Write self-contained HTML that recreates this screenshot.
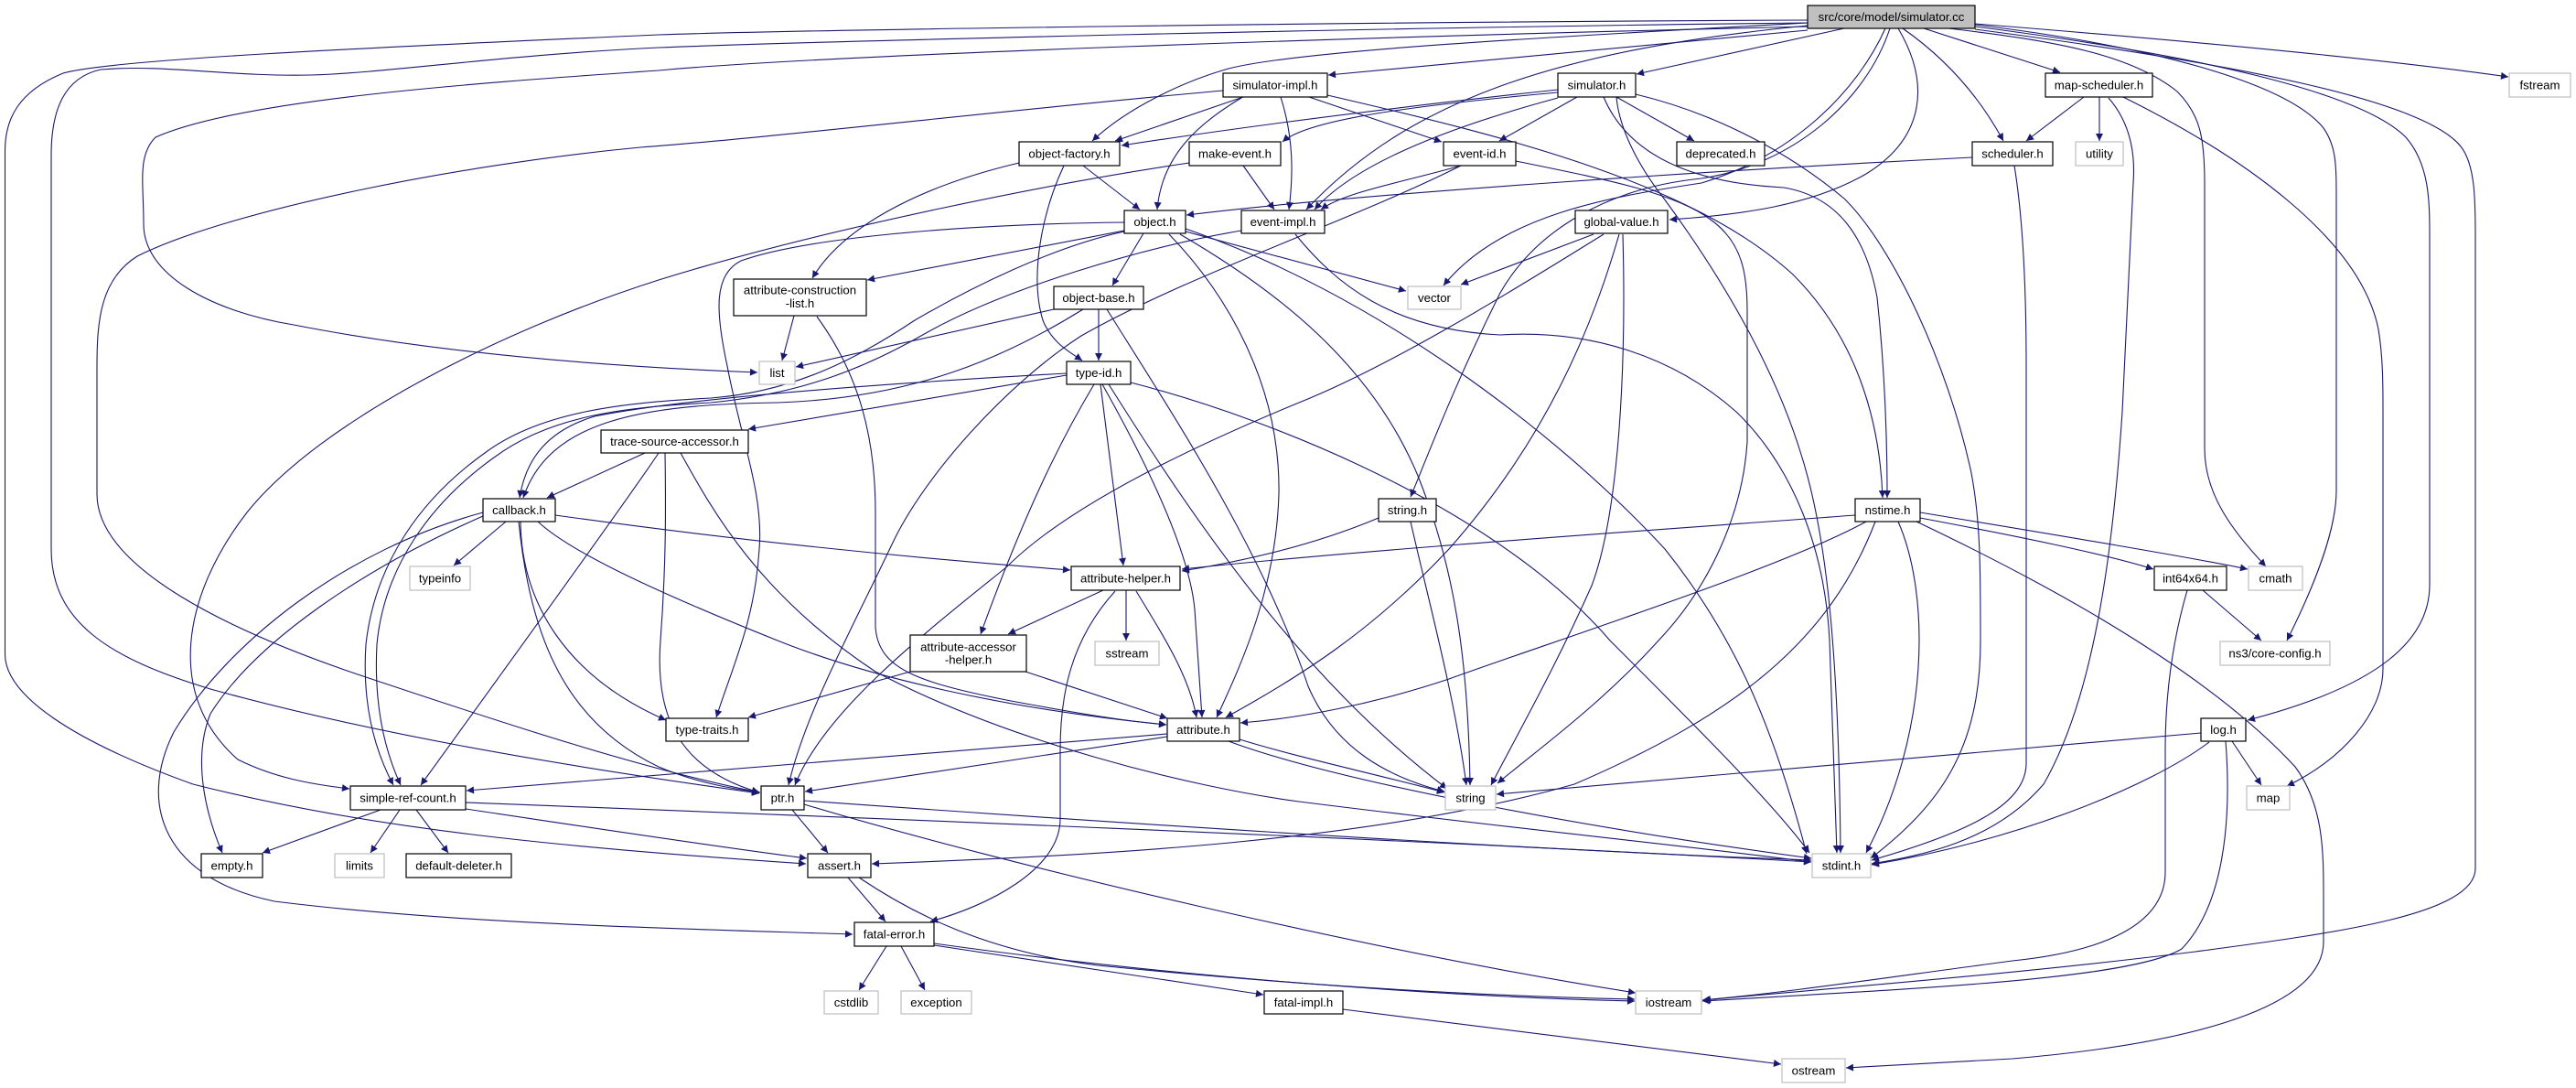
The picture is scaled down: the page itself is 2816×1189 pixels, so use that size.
<!DOCTYPE html>
<html><head><meta charset="utf-8"><style>
html,body{margin:0;padding:0;background:#fff;}
svg{display:block;}
.e path{fill:none;stroke:#191970;stroke-width:1.1;marker-end:url(#a);}
.n rect{fill:#fff;stroke:#000;stroke-width:1.2;}
.n rect.g{stroke:#bfbfbf;}
.n rect.r{fill:#bfbfbf;}
.n text{font-family:"Liberation Sans",Arial,sans-serif;font-size:13.2px;text-anchor:middle;fill:#000;}
</style></head><body>
<svg width="2816" height="1189" viewBox="0 0 2816 1189" xmlns="http://www.w3.org/2000/svg">
<defs><marker id="a" viewBox="0 0 10 10" refX="10" refY="5" markerWidth="11" markerHeight="8" markerUnits="userSpaceOnUse" orient="auto"><path d="M0,0 L10,5 L0,10 z" fill="#191970"/></marker></defs>
<g class="e">
<!-- simulator.cc -->
<path d="M1976,33 L1452,82"/>
<path d="M2016,31 L1789,81"/>
<path d="M2103,31 L2252,79"/>
<path d="M2159,26 Q2560,58 2742,84"/>
<path d="M2080,31 Q2150,80 2190,154"/>
<path d="M1976,28 C1700,55 1540,110 1428,229"/>
<path d="M1976,25 C1700,40 1420,55 1343,75 C1290,90 1230,120 1194,154"/>
<path d="M2075,31 C2110,90 2105,150 2040,190 C1980,225 1900,235 1825,240"/>
<path d="M2066,31 C2040,110 1960,180 1860,195 C1760,205 1680,250 1640,320 C1590,420 1560,500 1542,543"/>
<path d="M2061,31 C2030,100 1960,170 1860,200 C1760,215 1640,235 1578,312"/>
<path d="M1976,29 C1500,40 900,60 720,77 C500,92 260,110 170,150 C150,170 157,200 157,245 C157,300 230,340 321,355 C500,390 700,402 828,407"/>
<path d="M1976,25 C1500,30 900,45 720,52 C550,60 420,80 340,82 C250,84 180,70 110,76 C70,85 56,120 56,170 L56,600 C56,680 120,720 230,753 C400,800 600,835 830,867"/>
<path d="M1976,22 C1500,24 900,32 720,38 C400,52 120,65 69,80 C20,100 5.5,130 5.5,165 L5.5,715 C5.5,760 80,810 211,857 C400,905 600,925 881,944"/>
<path d="M2130,31 C2250,45 2330,60 2380,100 C2405,125 2410,150 2410,200 L2410,490 C2410,540 2440,580 2477,619"/>
<path d="M2159,27 C2350,50 2500,90 2540,140 C2554,160 2554,180 2554,220 L2554,536 C2554,580 2530,640 2500,700"/>
<path d="M2159,29 C2400,60 2580,100 2630,150 C2656,180 2656,220 2656,260 L2656,639 C2656,700 2600,750 2457,787"/>
<path d="M2159,32 C2450,70 2650,110 2690,160 C2706,180 2706,220 2706,260 L2706,949 C2706,1000 2550,1020 2400,1040 C2200,1065 2000,1080 1862,1093"/>
<!-- simulator.h -->
<path d="M1724,106 L1639,154"/>
<path d="M1767,106 L1852,154"/>
<path d="M1703,101 C1550,115 1430,130 1402,155"/>
<path d="M1703,98 C1500,120 1350,140 1226,159"/>
<path d="M1703,107 C1580,140 1480,180 1437,229"/>
<path d="M1753,106 C1780,170 1850,200 1950,205 C2010,215 2040,260 2052,325 C2060,400 2063,480 2063,544"/>
<path d="M1788,103 C1880,125 1960,170 2016,217 C2070,270 2130,400 2155,517 C2165,570 2165,620 2165,700 C2165,820 2120,880 2045,938"/>
<path d="M1767,106 C1770,140 1790,180 1819,217 C1880,300 1940,400 1970,500 C1995,580 2010,700 2012,932"/>
<!-- simulator-impl.h -->
<path d="M1359,106 L1219,154"/>
<path d="M1357,107 C1310,135 1270,170 1265,229"/>
<path d="M1400,106 C1414,150 1414,190 1409,229"/>
<path d="M1428,105 L1576,155"/>
<path d="M1451,104 C1650,150 1850,200 1960,300 C2030,370 2055,460 2058,544"/>
<path d="M1337,99 C1100,120 850,150 700,161 C500,180 250,230 150,280 C110,305 106,350 106,400 L106,540 C106,620 250,690 400,740 C550,790 700,840 830,866"/>
<!-- map-scheduler.h -->
<path d="M2278,106 L2215,154"/>
<path d="M2295,106 L2295,154"/>
<path d="M2321,106 C2450,170 2580,260 2600,360 C2605,390 2605,420 2605,450 L2605,731 C2605,780 2560,830 2500,859"/>
<path d="M2305,107 C2325,130 2335,160 2332,200 L2320,450 C2310,600 2290,760 2234,857 C2180,920 2100,935 2046,944"/>
<!-- scheduler.h -->
<path d="M2156,172 C1900,185 1500,210 1297,235"/>
<path d="M2202,181 C2210,230 2215,300 2215,400 L2215,834 C2215,880 2150,910 2046,940"/>
<!-- object-factory.h -->
<path d="M1184,181 L1246,229"/>
<path d="M1114,178 C1000,205 920,250 888,304"/>
<path d="M1163,181 C1140,230 1125,300 1140,350 C1150,375 1170,385 1183,394"/>
<!-- make-event.h -->
<path d="M1359,181 L1393,229"/>
<path d="M1300,178 C1150,200 900,250 720,306 C550,360 350,460 270,560 C200,650 180,760 260,830 C300,850 340,857 382,862"/>
<!-- event-id.h -->
<path d="M1597,181 C1530,200 1470,210 1444,229"/>
<path d="M1597,181 C1480,240 1300,300 1182,367 C1100,420 1010,520 975,595 C930,690 880,780 862,858"/>
<path d="M1657,176 C1750,195 1830,210 1870,240 C1905,265 1910,300 1910,340 L1910,483 C1905,560 1870,640 1813,700 C1750,770 1680,820 1637,856"/>
<!-- object.h -->
<path d="M1250,255 L1216,312"/>
<path d="M1229,252 L948,306"/>
<path d="M1229,243 C1050,245 880,260 810,285 C780,300 782,340 795,400 C810,480 835,540 830,600 C825,680 800,730 783,784"/>
<path d="M1229,253 C1150,270 1060,315 1000,350 C940,390 870,428 777,435 C680,440 590,450 530,495 C460,545 410,615 400,704 C395,780 415,830 430,858"/>
<path d="M1278,256 C1340,320 1400,420 1398,540 C1395,640 1360,720 1330,784"/>
<path d="M1296,253 L1537,318"/>
<path d="M1290,256 C1400,320 1500,400 1550,520 C1590,620 1605,720 1607,858"/>
<path d="M1296,250 C1500,320 1700,470 1820,600 C1900,700 1940,800 1975,933"/>
<!-- event-impl.h -->
<path d="M1357,252 C1250,270 1100,315 1014,363 C950,400 880,430 777,440 C680,445 600,455 540,500 C470,550 420,620 412,704 C408,780 425,830 438,858"/>
<path d="M1416,256 C1460,310 1520,360 1640,366 C1740,360 1830,390 1898,450 C1960,510 1995,600 2000,700 L2008,932"/>
<!-- global-value.h -->
<path d="M1742,256 L1597,311"/>
<path d="M1753,256 C1650,320 1520,400 1420,440 C1250,510 1150,570 1100,620 C1000,700 900,780 869,858"/>
<path d="M1770,256 C1740,360 1690,480 1584,600 C1500,690 1420,740 1340,784"/>
<path d="M1774,256 C1778,400 1770,560 1740,640 C1700,730 1660,800 1630,858"/>
<!-- object-base.h -->
<path d="M1201,338 L1201,394"/>
<path d="M1152,338 L870,401"/>
<path d="M1184,338 C1100,390 1000,435 850,440 C700,442 600,460 572,544"/>
<path d="M1210,338 C1280,450 1380,600 1430,750 C1460,820 1520,850 1579,865"/>
<!-- type-id.h -->
<path d="M1166,410 L818,469"/>
<path d="M1166,408 C950,420 750,435 650,455 C600,470 575,500 568,544"/>
<path d="M1203,420 L1228,618"/>
<path d="M1196,420 C1160,480 1120,560 1072,693"/>
<path d="M1205,420 C1250,500 1300,600 1306,666 L1314,784"/>
<path d="M1212,420 C1300,560 1420,740 1582,862"/>
<path d="M1236,418 C1400,460 1640,560 1760,700 C1860,800 1940,880 1978,932"/>
<!-- trace-source-accessor.h -->
<path d="M705,495 L598,544"/>
<path d="M720,495 C690,540 560,720 460,858"/>
<path d="M727,495 C728,560 728,620 722,700 C716,780 740,840 830,866"/>
<path d="M744,495 C780,560 830,650 957,734 C1100,810 1300,860 1420,876 C1650,905 1850,925 1980,942"/>
<!-- callback.h -->
<path d="M553,570 L496,618"/>
<path d="M607,563 C800,590 1000,610 1170,623"/>
<path d="M588,570 C620,600 700,640 850,700 C950,740 1100,775 1275,792"/>
<path d="M569,570 C570,660 620,740 728,787"/>
<path d="M567,570 C580,700 620,790 720,838 C760,855 800,862 831,866"/>
<path d="M528,564 C400,620 280,700 230,780 C210,830 225,890 243,932"/>
<path d="M528,560 C380,600 250,700 190,800 C150,880 180,960 300,985 C500,1010 750,1015 932,1021"/>
<!-- string.h -->
<path d="M1507,566 C1450,590 1380,610 1292,624"/>
<path d="M1542,570 C1560,650 1590,760 1603,858"/>
<!-- nstime.h -->
<path d="M2028,563 C1800,580 1500,600 1292,622"/>
<path d="M2099,566 C2200,585 2300,605 2354,622"/>
<path d="M2099,560 C2250,585 2400,610 2457,622"/>
<path d="M2095,570 C2200,620 2400,720 2509,838 C2540,880 2540,930 2540,980 L2540,1029 C2540,1100 2400,1140 2200,1157 L2018,1167"/>
<path d="M2040,570 C1950,620 1700,700 1584,742 C1500,770 1420,785 1356,790"/>
<path d="M2050,570 C2000,700 1900,780 1721,857 C1500,920 1200,935 953,944"/>
<path d="M2075,570 C2110,650 2110,800 2040,932"/>
<!-- int64x64.h -->
<path d="M2408,645 L2472,700"/>
<path d="M2391,645 C2375,700 2367,760 2367,820 L2367,953 C2367,1010 2300,1040 2200,1050 C2050,1070 1950,1085 1861,1093"/>
<!-- attribute-helper.h -->
<path d="M1206,645 L1102,693"/>
<path d="M1231,645 L1231,700"/>
<path d="M1242,646 C1275,700 1300,740 1308,784"/>
<path d="M1219,646 C1170,700 1159,760 1159,820 L1159,895 C1159,950 1080,990 1017,1007"/>
<!-- attribute-accessor-helper.h -->
<path d="M995,734 L818,784"/>
<path d="M1121,734 L1276,785"/>
<!-- attribute.h -->
<path d="M1276,805 L880,865"/>
<path d="M1276,802 C1000,825 750,845 510,864"/>
<path d="M1355,808 C1420,828 1500,845 1579,866"/>
<path d="M1343,810 C1450,850 1700,900 1980,938"/>
<!-- log.h -->
<path d="M2440,810 L2472,858"/>
<path d="M2406,801 C2100,828 1850,848 1636,868"/>
<path d="M2415,811 C2350,860 2200,920 2046,945"/>
<path d="M2433,810 C2440,900 2430,990 2385,1037 C2330,1070 2100,1080 1861,1094"/>
<!-- simple-ref-count.h -->
<path d="M416,885 L287,932"/>
<path d="M437,885 L405,932"/>
<path d="M455,885 L490,932"/>
<path d="M509,884 C650,905 780,925 882,938"/>
<path d="M509,877 C900,892 1500,915 1980,942"/>
<!-- ptr.h -->
<path d="M866,885 L905,932"/>
<path d="M879,875 C1300,905 1700,930 1980,940"/>
<path d="M879,879 C1100,945 1500,1040 1788,1085"/>
<!-- assert.h -->
<path d="M927,959 L968,1007"/>
<path d="M939,959 C1000,1000 1080,1040 1200,1055 C1400,1075 1600,1088 1787,1092"/>
<!-- fatal-error.h -->
<path d="M969,1034 L939,1082"/>
<path d="M985,1034 L1011,1082"/>
<path d="M1021,1033 L1381,1087"/>
<path d="M1021,1031 C1300,1070 1600,1090 1787,1094"/>
<!-- fatal-impl.h -->
<path d="M1468,1103 L1947,1163"/>
<!-- attribute-construction-list.h -->
<path d="M868,345 L855,394"/>
<path d="M893,346 C940,410 957,480 957,560 L957,685 C960,730 1000,745 1100,765 C1180,780 1230,788 1275,792"/>
</g>
<g class="n">
<rect class="r" x="1976" y="6" width="183" height="25"/><text x="2067.5" y="23">src/core/model/simulator.cc</text>
<rect x="1337" y="80" width="114" height="26"/><text x="1394" y="97.6">simulator-impl.h</text>
<rect x="1703" y="80" width="85" height="26"/><text x="1745.5" y="97.6">simulator.h</text>
<rect x="2236" y="80" width="117" height="26"/><text x="2294.5" y="97.6">map-scheduler.h</text>
<rect class="g" x="2743" y="80" width="67" height="26"/><text x="2776.5" y="97.6">fstream</text>
<rect x="1114" y="155" width="110" height="26"/><text x="1169" y="172.6">object-factory.h</text>
<rect x="1300" y="155" width="100" height="26"/><text x="1350" y="172.6">make-event.h</text>
<rect x="1578" y="155" width="79" height="26"/><text x="1617.5" y="172.6">event-id.h</text>
<rect x="1833" y="155" width="96" height="26"/><text x="1881" y="172.6">deprecated.h</text>
<rect x="2156" y="155" width="88" height="26"/><text x="2200" y="172.6">scheduler.h</text>
<rect class="g" x="2269" y="155" width="52" height="26"/><text x="2295" y="172.6">utility</text>
<rect x="1229" y="230" width="67" height="25"/><text x="1262.5" y="247">object.h</text>
<rect x="1357" y="230" width="91" height="25"/><text x="1402.5" y="247">event-impl.h</text>
<rect x="1722" y="230" width="101" height="25"/><text x="1772.5" y="247">global-value.h</text>
<rect x="802" y="305" width="145" height="40"/><text x="874.5" y="321.5">attribute-construction</text><text x="874.5" y="336">-list.h</text>
<rect x="1152" y="313" width="98" height="25"/><text x="1201" y="330">object-base.h</text>
<rect class="g" x="1539" y="313" width="58" height="25"/><text x="1568" y="330">vector</text>
<rect class="g" x="830" y="395" width="39" height="25"/><text x="849.5" y="412">list</text>
<rect x="1166" y="395" width="70" height="25"/><text x="1201" y="412">type-id.h</text>
<rect x="657" y="470" width="161" height="25"/><text x="737.5" y="487">trace-source-accessor.h</text>
<rect x="528" y="545" width="79" height="25"/><text x="567.5" y="562">callback.h</text>
<rect x="1507" y="545" width="63" height="25"/><text x="1538.5" y="562">string.h</text>
<rect x="2028" y="545" width="71" height="25"/><text x="2063.5" y="562">nstime.h</text>
<rect class="g" x="448" y="619" width="66" height="26"/><text x="481" y="636.6">typeinfo</text>
<rect x="1171" y="619" width="119" height="26"/><text x="1230.5" y="636.6">attribute-helper.h</text>
<rect x="2355" y="619" width="79" height="26"/><text x="2394.5" y="636.6">int64x64.h</text>
<rect class="g" x="2458" y="619" width="59" height="26"/><text x="2487.5" y="636.6">cmath</text>
<rect x="995" y="694" width="127" height="40"/><text x="1058.5" y="711.6">attribute-accessor</text><text x="1058.5" y="725.6">-helper.h</text>
<rect class="g" x="1197" y="701" width="70" height="26"/><text x="1232" y="718.6">sstream</text>
<rect class="g" x="2427" y="701" width="120" height="26"/><text x="2487" y="718.6">ns3/core-config.h</text>
<rect x="728" y="785" width="90" height="25"/><text x="773" y="802">type-traits.h</text>
<rect x="1276" y="785" width="79" height="25"/><text x="1315.5" y="802">attribute.h</text>
<rect x="2406" y="785" width="49" height="25"/><text x="2430.5" y="802">log.h</text>
<rect x="383" y="859" width="126" height="26"/><text x="446" y="876.6">simple-ref-count.h</text>
<rect x="832" y="859" width="47" height="26"/><text x="855.5" y="876.6">ptr.h</text>
<rect class="g" x="1580" y="859" width="55" height="26"/><text x="1607.5" y="876.6">string</text>
<rect class="g" x="2456" y="859" width="47" height="26"/><text x="2479.5" y="876.6">map</text>
<rect x="220" y="933" width="67" height="26"/><text x="253.5" y="950.6">empty.h</text>
<rect class="g" x="366" y="933" width="54" height="26"/><text x="393" y="950.6">limits</text>
<rect x="444" y="933" width="115" height="26"/><text x="501.5" y="950.6">default-deleter.h</text>
<rect x="883" y="933" width="69" height="26"/><text x="917.5" y="950.6">assert.h</text>
<rect class="g" x="1981" y="933" width="64" height="26"/><text x="2013" y="950.6">stdint.h</text>
<rect x="934" y="1008" width="87" height="26"/><text x="977.5" y="1025.6">fatal-error.h</text>
<rect class="g" x="901" y="1083" width="59" height="25"/><text x="930.5" y="1100">cstdlib</text>
<rect class="g" x="985" y="1083" width="77" height="25"/><text x="1023.5" y="1100">exception</text>
<rect x="1382" y="1083" width="86" height="25"/><text x="1425" y="1100">fatal-impl.h</text>
<rect class="g" x="1788" y="1083" width="72" height="25"/><text x="1824" y="1100">iostream</text>
<rect class="g" x="1948" y="1157" width="69" height="26"/><text x="1982.5" y="1174.6">ostream</text>
</g>
</svg>
</body></html>
